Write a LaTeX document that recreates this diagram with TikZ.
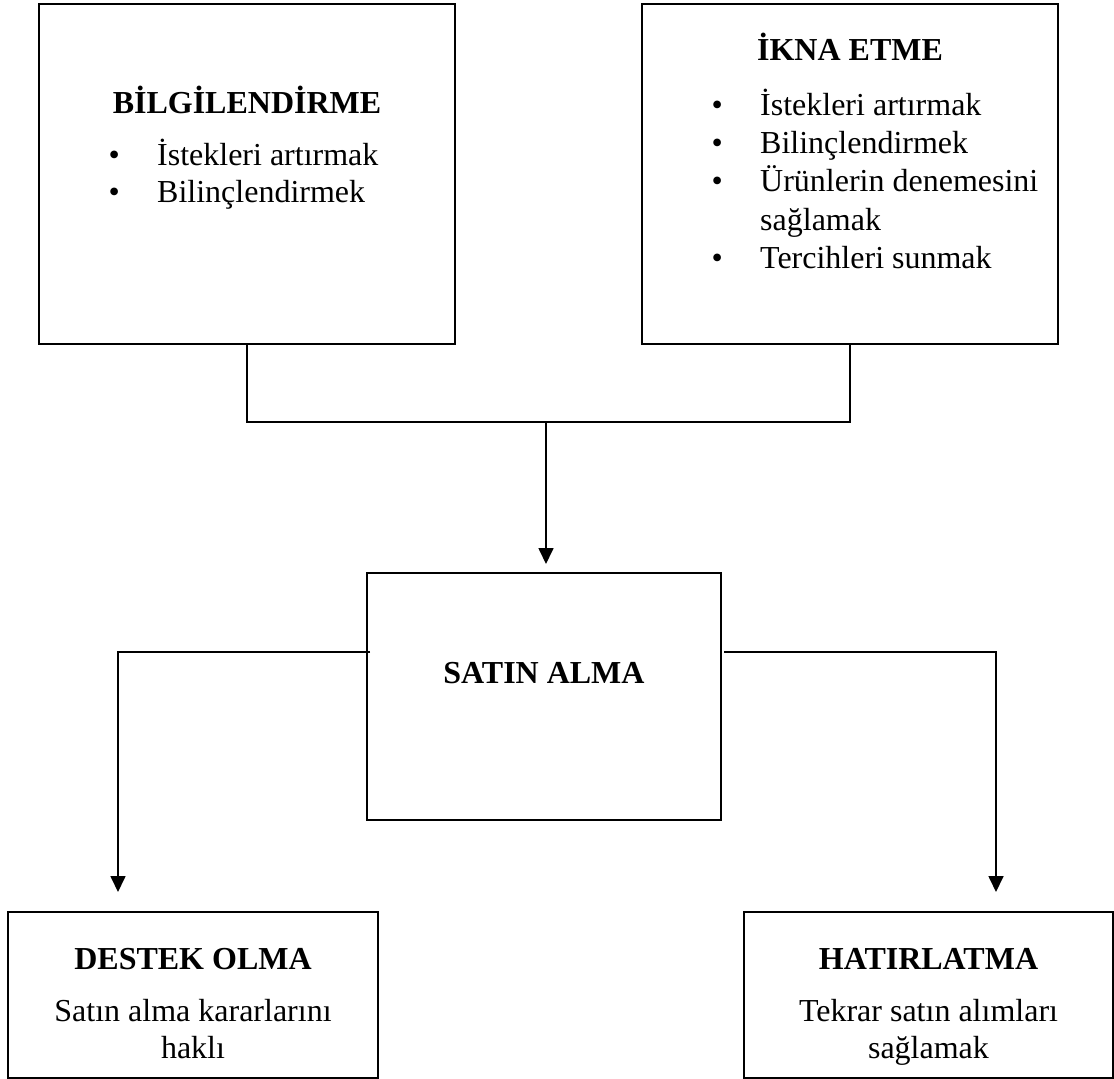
\documentclass[tikz,border=0pt]{standalone}
\usepackage{fontspec}
\setmainfont{Liberation Serif}
\usetikzlibrary{arrows.meta}
\tikzset{
  boxnode/.style={draw=black, line width=2pt, inner sep=0pt, outer sep=0pt, fill=none},
  headtxt/.style={anchor=base, inner sep=0pt, font=\fontsize{32}{37}\selectfont\bfseries},
  bodytxt/.style={anchor=base, inner sep=0pt, font=\fontsize{32}{37}\selectfont},
  itemtxt/.style={anchor=base west, inner sep=0pt, font=\fontsize{32}{37}\selectfont},
  conn/.style={draw=black, line width=1.7pt},
  arr/.style={conn, -{Triangle[length=16pt,width=15pt]}}
}
\newcommand{\bul}[1]{\makebox[48.6pt][l]{\makebox[11.2pt][c]{•}}#1}
\newcommand{\nobul}[1]{\makebox[48.6pt][l]{}#1}
\begin{document}
\begin{tikzpicture}[x=1pt,y=-1pt]
\useasboundingbox (0,0) rectangle (1114,1079);
% boxes
\node[boxnode, minimum width=416pt, minimum height=340pt] (b1) at (247,174) {};
\node[boxnode, minimum width=416pt, minimum height=340pt] (b2) at (850,174) {};
\node[boxnode, minimum width=354pt, minimum height=247pt] (b3) at (544,696.5) {};
\node[boxnode, minimum width=370pt, minimum height=166pt] (b4) at (193,995) {};
\node[boxnode, minimum width=369pt, minimum height=166pt] (b5) at (928.5,995) {};
% texts box1
\node[headtxt] (h1) at (247,113) {BİLGİLENDİRME};
\node[itemtxt] (i11) at (108.4,165) {\bul{İstekleri artırmak}};
\node[itemtxt] (i12) at (108.4,202) {\bul{Bilinçlendirmek}};
% texts box2
\node[headtxt] (h2) at (850,60) {İKNA ETME};
\node[itemtxt] (i21) at (711.4,115) {\bul{İstekleri artırmak}};
\node[itemtxt] (i22) at (711.4,153.3) {\bul{Bilinçlendirmek}};
\node[itemtxt] (i23) at (711.4,191.7) {\bul{Ürünlerin denemesini}};
\node[itemtxt] (i24) at (711.4,230) {\nobul{sağlamak}};
\node[itemtxt] (i25) at (711.4,268.3) {\bul{Tercihleri sunmak}};
% box3
\node[headtxt] (h3) at (544,683) {SATIN ALMA};
% box4
\node[headtxt] (h4) at (193,969) {DESTEK OLMA};
\node[bodytxt] (t41) at (193,1021) {Satın alma kararlarını};
\node[bodytxt] (t42) at (193,1058) {haklı};
% box5
\node[headtxt] (h5) at (928.5,969) {HATIRLATMA};
\node[bodytxt] (t51) at (928.5,1021) {Tekrar satın alımları};
\node[bodytxt] (t52) at (928.5,1058) {sağlamak};
% connectors
\coordinate (jrow) at (0,422);
\coordinate (j) at (546,422);
\draw[conn] (b1.south) -- (b1.south |- jrow) -- (b2.south |- jrow) -- (b2.south);
\draw[arr, shorten >=9pt] (j) -- (j |- b3.north);
\coordinate (lk) at (118,652);
\coordinate (rk) at (996,652);
\draw[arr, shorten >=20pt] ([xshift=3pt]b3.west |- lk) -- (lk) -- (lk |- b4.north);
\draw[arr, shorten >=20pt] ([xshift=3pt]b3.east |- rk) -- (rk) -- (rk |- b5.north);
\end{tikzpicture}
\end{document}
